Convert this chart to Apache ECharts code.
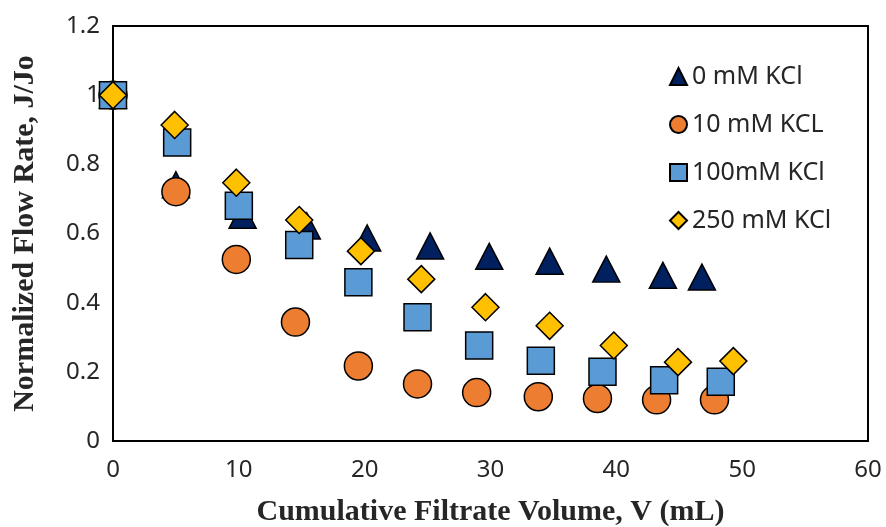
<!DOCTYPE html>
<html>
<head>
<meta charset="utf-8">
<script src="https://cdn.jsdelivr.net/npm/echarts@6/dist/echarts.min.js"></script>
<style>
  html, body { margin: 0; padding: 0; background: #fff; }
  #chart { width: 886px; height: 527px; }
</style>
</head>
<body>
<div id="chart"></div>
<script>
  // values: [volume mL, J/Jo]
  const kcl0 = [[0, 1.0], [5, 0.741], [10.3, 0.653], [15.4, 0.622], [20.2, 0.587], [25.2, 0.564], [29.9, 0.534], [34.7, 0.52], [39.2, 0.497], [43.7, 0.479], [46.8, 0.474]]
  const kcl10 = [[0, 1.0], [5.0, 0.721], [9.8, 0.525], [14.5, 0.344], [19.5, 0.217], [24.2, 0.165], [28.9, 0.14], [33.8, 0.128], [38.5, 0.123], [43.2, 0.119], [47.8, 0.119]]
  const kcl100 = [[0, 1.0], [5.1, 0.863], [10.0, 0.68], [14.8, 0.567], [19.5, 0.459], [24.2, 0.358], [29.1, 0.276], [34.0, 0.232], [38.9, 0.2], [43.8, 0.176], [48.3, 0.171]]
  const kcl250 = [[0, 1.0], [4.9, 0.914], [9.8, 0.747], [14.8, 0.639], [19.7, 0.549], [24.5, 0.468], [29.6, 0.387], [34.7, 0.333], [39.8, 0.276], [44.9, 0.228], [49.3, 0.231]]
  const seriesNames = ['0 mM KCl', '10 mM KCL', '100mM KCl', '250 mM KCl']

  const chart = echarts.init(document.getElementById('chart'))
  const tickFont = { fontFamily: 'Noto Sans', fontSize: 24, color: '#262626' }
  const titleFont = { fontFamily: 'Liberation Serif', fontWeight: 'bold', fontSize: 30, color: '#262626' }
  const markerBorder = { borderColor: '#000', borderWidth: 1.5, opacity: 1 }

  const option = {
    animation: false,
    grid: { left: 113, right: 18, top: 26, bottom: 86, outerBoundsMode: 'none', containLabel: false },
    legend: {
      orient: 'vertical',
      left: 664,
      top: 59,
      itemWidth: 17,
      itemHeight: 17,
      itemGap: 23,
      textStyle: { fontFamily: 'Noto Sans', fontSize: 25, color: '#262626' },
      data: seriesNames
    },
    xAxis: {
      type: 'value',
      min: 0, max: 60, interval: 10,
      name: 'Cumulative Filtrate Volume, V (mL)',
      nameLocation: 'middle',
      nameGap: 56,
      nameTextStyle: titleFont,
      axisLine: { show: true, onZero: false, lineStyle: { color: '#000', width: 2 } },
      axisTick: { show: false },
      axisLabel: Object.assign({ margin: 17 }, tickFont),
      splitLine: { show: false }
    },
    yAxis: {
      type: 'value',
      min: 0, max: 1.2, interval: 0.2,
      name: 'Normalized Flow Rate, J/Jo',
      nameLocation: 'middle',
      nameGap: 73,
      nameTextStyle: titleFont,
      axisLine: { show: true, onZero: false, lineStyle: { color: '#000', width: 2 } },
      axisTick: { show: false },
      axisLabel: Object.assign({ margin: 13 }, tickFont),
      splitLine: { show: false }
    },
    series: [
      {
        name: seriesNames[0], type: 'scatter', symbol: 'triangle', symbolSize: [27, 26],
        itemStyle: Object.assign({ color: '#002060' }, markerBorder), data: kcl0
      },
      {
        name: seriesNames[1], type: 'scatter', symbol: 'circle', symbolSize: 28,
        itemStyle: Object.assign({ color: '#ED7D31' }, markerBorder), data: kcl10
      },
      {
        name: seriesNames[2], type: 'scatter', symbol: 'rect', symbolSize: 27,
        itemStyle: Object.assign({ color: '#5B9BD5' }, markerBorder), data: kcl100
      },
      {
        name: seriesNames[3], type: 'scatter', symbol: 'diamond', symbolSize: 27,
        itemStyle: Object.assign({ color: '#FFC000' }, markerBorder), data: kcl250
      }
    ],
    graphic: [{
      type: 'rect',
      shape: { x: 113, y: 26, width: 886 - 113 - 18, height: 527 - 26 - 86 },
      style: { fill: 'none', stroke: '#000', lineWidth: 2 },
      silent: true,
      z: -1
    }]
  }
  chart.setOption(option)
</script>
</body>
</html>
